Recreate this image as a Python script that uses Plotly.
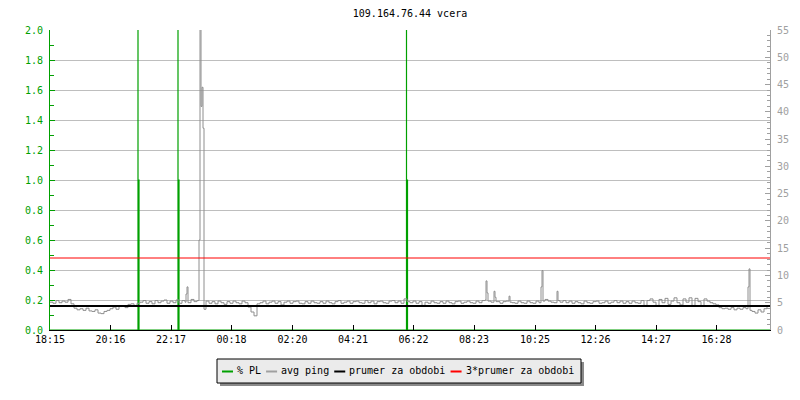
import pandas as pd
import plotly.graph_objects as go

# ---------------- data ----------------
title_text = "109.164.76.44 vcera"
start_time = "2024-05-14 18:15"
span_hours = 24
sample_minutes = 6

# avg ping [ms], one value every 6 minutes from 18:15
ping_ms = [
    5.1, 4.9, 5.4, 5.0, 5.3, 5.1, 5.6, 4.8, 4.0, 3.7,
    3.9, 3.6, 4.0, 3.5, 3.4, 3.7, 3.1, 3.0, 3.4, 3.6,
    3.9, 4.2, 3.8, 4.3, 4.4, 4.1, 4.7, 4.8, 4.5, 4.9,
    5.1, 5.4, 4.9, 5.2, 4.8, 5.4, 5.0, 5.3, 5.5, 4.9,
    5.3, 5.0, 5.5, 4.9, 5.4, 5.1, 5.0, 5.6, 5.2, 5.4,
    5.1, 4.8, 5.3, 4.9, 5.2, 4.8, 5.3, 5.0, 4.7, 5.2,
    4.9, 5.3, 5.0, 4.8, 5.3, 5.0, 4.2, 3.3, 2.6, 4.8,
    5.0, 5.3, 4.8, 5.1, 5.3, 4.9, 5.2, 4.6, 5.1, 5.3,
    4.9, 5.2, 5.3, 4.9, 4.8, 5.2, 4.9, 5.3, 5.0, 4.9,
    5.2, 4.9, 5.3, 5.0, 4.8, 5.2, 5.4, 4.9, 5.1, 5.3,
    4.9, 5.2, 5.3, 5.0, 4.9, 5.4, 5.0, 5.3, 4.8, 5.2,
    5.3, 5.0, 4.9, 5.3, 5.4, 5.0, 5.3, 4.9, 5.7, 5.2,
    5.0, 5.3, 4.9, 5.2, 4.5, 5.1, 4.9, 5.3, 5.0, 4.9,
    5.2, 4.9, 5.3, 5.0, 4.8, 5.2, 5.3, 4.9, 5.1, 5.3,
    5.0, 4.9, 5.3, 5.0, 5.4, 5.5, 5.3, 5.1, 5.4, 5.2,
    4.9, 5.2, 5.3, 5.1, 5.0, 4.9, 5.3, 5.0, 4.9, 5.3,
    5.0, 4.9, 5.3, 5.0, 5.1, 5.6, 5.3, 5.1, 5.0, 5.3,
    5.1, 5.4, 5.0, 5.3, 4.9, 5.2, 5.0, 4.8, 5.3, 5.0,
    4.9, 5.2, 5.3, 4.9, 5.0, 5.3, 4.9, 5.1, 5.4, 5.0,
    5.3, 4.9, 5.2, 4.9, 5.3, 5.0, 4.9, 5.4, 4.5, 5.4,
    5.7, 5.1, 4.5, 5.6, 5.0, 5.8, 4.7, 5.3, 5.9, 5.0,
    4.6, 5.7, 5.1, 5.9, 4.5, 5.8, 5.2, 4.4, 5.7, 5.3,
    5.0, 4.8, 4.6, 4.1, 3.9, 4.0, 3.8, 4.1, 3.7, 4.0,
    3.8, 4.1, 3.9, 3.9, 3.4, 3.1, 3.7, 3.3, 3.9, 4.3,
]

# short ping spikes (time, ms)
spike_times = ["22:47", "22:49", "23:13", "23:15", "23:17", "23:19", "23:21", "23:23",
               "08:47", "08:49", "09:03", "09:05", "09:07", "09:33", "09:35",
               "10:37", "10:39", "10:41", "11:09", "11:11", "17:31", "17:33", "17:35"]
spike_ms = [6.6, 7.9, 16.5, 60.0, 41.0, 44.5, 37.0, 3.8,
            9.0, 6.8, 7.1, 6.0, 5.2, 6.2, 5.1,
            7.9, 10.9, 5.3, 7.1, 5.4, 7.9, 11.2, 3.6]

# packet loss [%]
pl_times = ["18:15", "21:11", "21:11", "21:13", "22:31", "22:31", "22:33",
            "06:08", "06:08", "06:10", "18:15"]
pl_values = [0, 3, 1, 0, 3, 1, 0, 3, 1, 0, 0]

mean_ping_ms = 4.4
threshold_ms = 13.2

x_tick_labels = ["18:15", "20:16", "22:17", "00:18", "02:20", "04:21",
                 "06:22", "08:23", "10:25", "12:26", "14:27", "16:28"]

legend_names = ["% PL", "avg ping", "prumer za obdobi", "3*prumer za obdobi"]
legend_colors = ["#00A000", "#A0A0A0", "#000000", "#FF0000"]

# ---------------- helpers ----------------
start = pd.Timestamp(start_time)
end = start + pd.Timedelta(hours=span_hours)


def to_ts(hhmm, last=False):
    ts = pd.Timestamp(f"{start.date()} {hhmm}")
    if ts < start or (last and ts <= start):
        ts += pd.Timedelta(days=1)
    return ts


base = pd.Series(ping_ms, index=pd.date_range(start, periods=len(ping_ms),
                                               freq=f"{sample_minutes}min"))
spikes = pd.Series(spike_ms, index=[to_ts(s) for s in spike_times])
ping = spikes.combine_first(base).sort_index()

pl_x = [to_ts(s, last=(i == len(pl_times) - 1)) for i, s in enumerate(pl_times)]

GREEN = "#00A000"
GRAY = "#A0A0A0"
FONT = "DejaVu Sans Mono"

fig = go.Figure()
fig.add_trace(go.Scatter(x=ping.index, y=ping.values, yaxis="y2", mode="lines",
                         line=dict(color="#8E8E8E", width=1, shape="hv"),
                         name=legend_names[1]))
fig.add_trace(go.Scatter(x=[start, end], y=[mean_ping_ms, mean_ping_ms], yaxis="y2",
                         mode="lines", line=dict(color="#000000", width=2),
                         name=legend_names[2]))
fig.add_trace(go.Scatter(x=pl_x, y=pl_values, yaxis="y", mode="lines",
                         line=dict(color=GREEN, width=1.2, shape="hv"),
                         name=legend_names[0]))
fig.add_trace(go.Scatter(x=[start, end], y=[threshold_ms, threshold_ms], yaxis="y2",
                         mode="lines", line=dict(color="#FF0000", width=1),
                         name=legend_names[3]))

L, R, T, B = 50, 30, 30, 70
W, H = 800, 400
PW, PH = W - L - R, H - T - B


def px(x):
    return (x - L) / PW


def py(y):
    return (H - B - y) / PH


shapes = []
annotations = []
# legend box with shadow
shapes.append(dict(type="rect", xref="paper", yref="paper", x0=px(220), x1=px(584),
                   y0=py(362), y1=py(386), fillcolor="#8A8A8A", line=dict(width=0)))
shapes.append(dict(type="rect", xref="paper", yref="paper", x0=px(217), x1=px(581),
                   y0=py(359), y1=py(383), fillcolor="#EBEBEB",
                   line=dict(color="black", width=1)))
cursor = 222
for name, col in zip(legend_names, legend_colors):
    shapes.append(dict(type="line", xref="paper", yref="paper", x0=px(cursor),
                       x1=px(cursor + 11), y0=py(371.5), y1=py(371.5),
                       line=dict(color=col, width=2)))
    annotations.append(dict(text=name, xref="paper", yref="paper", x=px(cursor + 14),
                            y=py(370.5), xanchor="left", yanchor="middle",
                            showarrow=False, borderpad=0,
                            font=dict(family=FONT, size=10, color="black")))
    cursor = cursor + 14 + len(name) * 6.02 + 6

fig.update_layout(
    width=W, height=H,
    margin=dict(l=L, r=R, t=T, b=B),
    paper_bgcolor="white", plot_bgcolor="white",
    showlegend=False,
    font=dict(family=FONT, size=10, color="black"),
    title=dict(text=title_text, x=0.5, xref="paper", xanchor="center",
               y=1 - 13.5 / H, yref="container", yanchor="middle",
               font=dict(family=FONT, size=10, color="black")),
    xaxis=dict(type="date", range=[start, end],
               tickvals=[to_ts(s) for s in x_tick_labels], ticktext=x_tick_labels,
               ticks="inside", ticklen=5, tickcolor="black", tickwidth=1,
               showline=True, linecolor="black", linewidth=1,
               showgrid=False, zeroline=False,
               tickfont=dict(family=FONT, size=10, color="black")),
    yaxis=dict(range=[0, 2], dtick=0.2, tick0=0, tickformat=".1f",
               ticks="inside", ticklen=5, tickcolor=GREEN,
               showline=True, linecolor=GREEN, linewidth=1,
               showgrid=True, gridcolor="#BEBEBE", gridwidth=1, zeroline=False,
               tickfont=dict(family=FONT, size=10, color=GREEN),
               ticklabelstandoff=4,
               minor=dict(dtick=0.1, ticks="inside", ticklen=4, tickcolor=GREEN,
                          showgrid=False)),
    yaxis2=dict(range=[0, 55], dtick=5, tick0=0, overlaying="y", side="right",
                ticks="inside", ticklen=5, tickcolor=GRAY,
                showline=True, linecolor=GRAY, linewidth=1,
                showgrid=False, zeroline=False,
                tickfont=dict(family=FONT, size=10, color=GRAY),
                ticklabelstandoff=4,
                minor=dict(dtick=1, ticks="inside", ticklen=3, tickcolor=GRAY,
                           showgrid=False)),
    shapes=shapes,
    annotations=annotations,
)

fig.write_html("out.html", config={"displayModeBar": False},
               post_script="document.body.style.margin='0';")
